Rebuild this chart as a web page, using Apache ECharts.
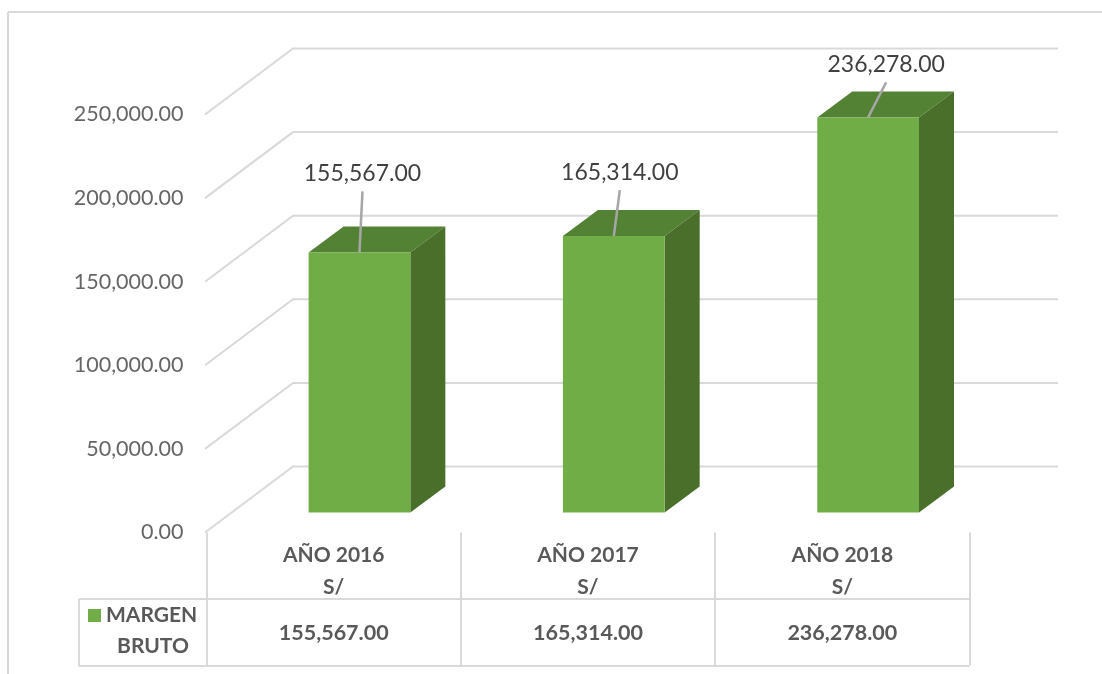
<!DOCTYPE html>
<html><head><meta charset="utf-8">
<style>html,body{margin:0;padding:0;background:#fff}#c{width:1102px;height:674px}</style>
<script src="https://cdn.jsdelivr.net/npm/echarts@6/dist/echarts.min.js"></script>
</head><body><div id="c"></div>
<script>
const categories = ['AÑO 2016\nS/', 'AÑO 2017\nS/', 'AÑO 2018\nS/'];
const margenBruto = [155567, 165314, 236278];
const yTicks = [0, 50000, 100000, 150000, 200000, 250000];
const seriesName = 'MARGEN BRUTO';

// style constants
const FONT = 'Lato, "Open Sans", sans-serif';
const RULE = '#d9d9d9';
const leader = [{dx: 3, dy: -61}, {dx: 6, dy: -46}, {dx: 18, dy: -35}];
const fmt = v => v.toLocaleString('en-US', {minimumFractionDigits: 2, maximumFractionDigits: 2});

const chart = echarts.init(document.getElementById('c'), null, {renderer: 'canvas'});
const L = 206.5, R = 969.5, T = 114.5, B = 532.5;

function ruleItem(x1, y1, x2, y2) {
  return {type: 'line', silent: true, shape: {x1, y1, x2, y2}, style: {stroke: RULE, lineWidth: 2}};
}

chart.setOption({
  animation: false,
  backgroundColor: '#fff',
  grid: {left: L, top: T, width: R - L, height: B - T, containLabel: false},
  xAxis: [
    {type: 'category', data: categories, position: 'bottom',
      axisLine: {show: false},
      axisTick: {show: true, length: 133, alignWithLabel: false, lineStyle: {color: RULE, width: 2}},
      axisLabel: {margin: 7, color: '#595959', fontFamily: FONT, fontWeight: 'bold', fontSize: 21, lineHeight: 32}},
    {type: 'category', data: margenBruto.map(fmt), position: 'bottom',
      axisLine: {show: false}, axisTick: {show: false},
      axisLabel: {margin: 90, color: '#595959', fontFamily: FONT, fontWeight: 'bold', fontSize: 21.5}}
  ],
  yAxis: {type: 'value', min: 0, max: 250000, interval: 50000,
    axisLine: {show: false}, axisTick: {show: false}, splitLine: {show: false},
    axisLabel: {margin: 23, color: '#666666', fontFamily: FONT, fontSize: 21.5, padding: [2, 0, 0, 0], formatter: v => fmt(v)}},
  legend: {left: 88, top: 605, padding: 0, itemWidth: 13, itemHeight: 13, icon: 'rect',
    data: [seriesName], selectedMode: false, formatter: () => 'MARGEN',
    textStyle: {color: '#595959', fontFamily: FONT, fontWeight: 'bold', fontSize: 21}},
  series: [
    {type: 'custom', name: 'walls', silent: true, z: 1,
      data: yTicks.map(t => [0, t]),
      renderItem(params, api) {
        const y = api.coord([0, api.value(1)])[1];
        const x = params.coordSys.x - 1.5;
        return {type: 'polyline', shape: {points: [[x, y], [x + 88, y - 66], [x + 853, y - 66]]},
          style: {fill: 'none', stroke: RULE, lineWidth: 2}};
      }},
    {type: 'custom', name: seriesName, z: 3,
      itemStyle: {color: '#70ad47'},
      data: margenBruto.map((v, i) => [i, v]),
      renderItem(params, api) {
        const i = params.dataIndex, val = api.value(1);
        const cx = api.coord([i, val])[0] + 25.8;
        const zero = api.coord([i, 0])[1] - 20;
        const top = api.coord([i, val])[1] - 20;
        const w = api.size([1, 0])[0] * 0.4, l = cx - w / 2, r = cx + w / 2;
        const dx = 35, dy = -26;
        const lead = leader[i];
        return {type: 'group', children: [
          {type: 'polygon', shape: {points: [[l, top], [l + dx, top + dy], [r + dx, top + dy], [r, top]]}, style: {fill: '#548235'}},
          {type: 'polygon', shape: {points: [[r, zero], [r + dx, zero + dy], [r + dx, top + dy], [r, top]]}, style: {fill: '#496f2b'}},
          {type: 'rect', shape: {x: l, y: top, width: w, height: zero - top}, style: {fill: '#70ad47'}},
          {type: 'line', shape: {x1: cx, y1: top, x2: cx + lead.dx, y2: top + lead.dy}, style: {stroke: '#a6a6a6', lineWidth: 2.5}},
          {type: 'text', style: {x: cx + lead.dx, y: top + lead.dy - 18, text: fmt(val), align: 'center', verticalAlign: 'middle',
            fill: '#404040', font: '23px ' + FONT}}
        ]};
      }}
  ],
  graphic: [
    ruleItem(8, 12, 8, 674), ruleItem(8, 12, 1102, 12),
    ruleItem(79, 599, 969.5, 599), ruleItem(79, 666, 969.5, 666), ruleItem(79, 599, 79, 666),
    {type: 'text', silent: true, style: {x: 153, y: 646, text: 'BRUTO', align: 'center', verticalAlign: 'middle',
      fill: '#595959', font: 'bold 21px ' + FONT}}
  ]
});
</script></body></html>
